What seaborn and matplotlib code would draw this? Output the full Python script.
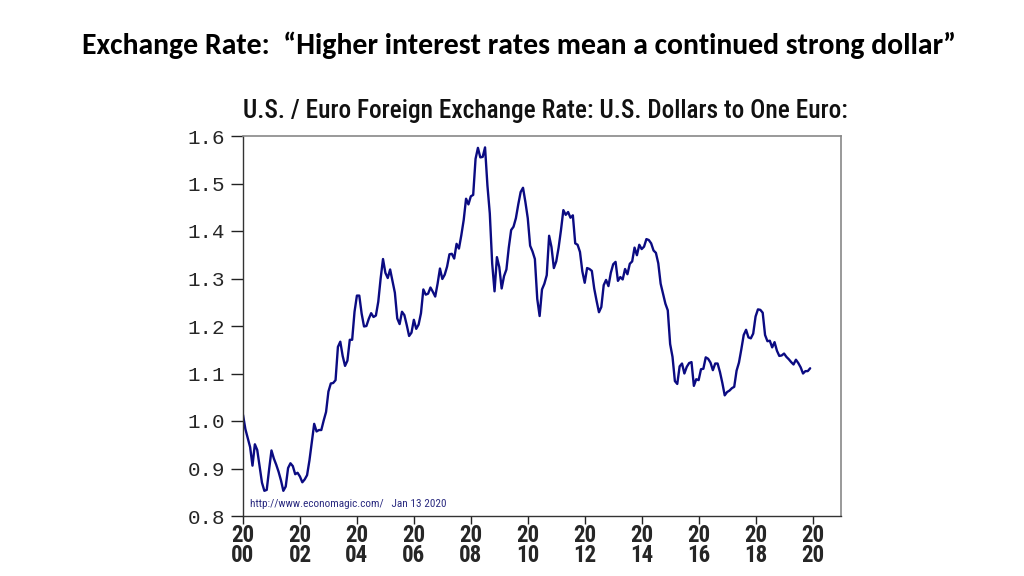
import numpy as np
import pandas as pd
import matplotlib
matplotlib.use("Agg")
import matplotlib.pyplot as plt
import seaborn as sns
from matplotlib import font_manager as fm
from matplotlib.transforms import Bbox

# ---------------- data ----------------
slide_title = "Exchange Rate:  \u201cHigher interest rates mean a continued strong dollar\u201d"
chart_title = "U.S. / Euro Foreign Exchange Rate: U.S. Dollars to One Euro:"
source_note = "http://www.economagic.com/   Jan 13 2020"
first_month = "2000-01"
usd_per_eur = [
    1.013, 0.983, 0.964, 0.945, 0.906, 0.951, 0.939, 0.905, 0.870, 0.853, 0.855, 0.898,  # 2000
    0.938, 0.921, 0.908, 0.893, 0.875, 0.853, 0.862, 0.901, 0.911, 0.905, 0.888, 0.891,  # 2001
    0.883, 0.871, 0.877, 0.886, 0.917, 0.956, 0.994, 0.978, 0.981, 0.981, 1.001, 1.019,  # 2002
    1.062, 1.079, 1.080, 1.086, 1.156, 1.167, 1.137, 1.116, 1.127, 1.171, 1.171, 1.230,  # 2003
    1.264, 1.264, 1.226, 1.199, 1.200, 1.215, 1.227, 1.219, 1.222, 1.251, 1.300, 1.341,  # 2004
    1.312, 1.301, 1.319, 1.294, 1.270, 1.216, 1.204, 1.230, 1.223, 1.202, 1.179, 1.186,  # 2005
    1.213, 1.194, 1.203, 1.227, 1.277, 1.266, 1.268, 1.281, 1.272, 1.262, 1.289, 1.321,  # 2006
    1.299, 1.308, 1.325, 1.351, 1.352, 1.342, 1.373, 1.363, 1.391, 1.423, 1.468, 1.456,  # 2007
    1.473, 1.476, 1.552, 1.575, 1.555, 1.556, 1.576, 1.496, 1.437, 1.332, 1.273, 1.345,  # 2008
    1.324, 1.279, 1.305, 1.319, 1.365, 1.402, 1.409, 1.427, 1.456, 1.482, 1.491, 1.461,  # 2009
    1.427, 1.369, 1.357, 1.341, 1.257, 1.221, 1.277, 1.289, 1.307, 1.390, 1.366, 1.322,  # 2010
    1.336, 1.365, 1.402, 1.444, 1.434, 1.440, 1.428, 1.433, 1.374, 1.371, 1.356, 1.315,  # 2011
    1.291, 1.322, 1.320, 1.316, 1.279, 1.253, 1.229, 1.240, 1.286, 1.297, 1.284, 1.312,  # 2012
    1.330, 1.335, 1.295, 1.303, 1.298, 1.320, 1.309, 1.331, 1.336, 1.365, 1.349, 1.371,  # 2013
    1.362, 1.367, 1.383, 1.381, 1.374, 1.359, 1.354, 1.332, 1.289, 1.268, 1.247, 1.233,  # 2014
    1.162, 1.135, 1.084, 1.078, 1.115, 1.121, 1.100, 1.114, 1.122, 1.124, 1.074, 1.088,  # 2015
    1.086, 1.109, 1.110, 1.134, 1.131, 1.123, 1.107, 1.121, 1.121, 1.103, 1.080, 1.054,  # 2016
    1.061, 1.064, 1.069, 1.072, 1.106, 1.123, 1.151, 1.181, 1.192, 1.176, 1.174, 1.184,  # 2017
    1.220, 1.235, 1.234, 1.228, 1.181, 1.168, 1.169, 1.155, 1.166, 1.148, 1.137, 1.138,  # 2018
    1.142, 1.135, 1.130, 1.124, 1.119, 1.129, 1.122, 1.113, 1.100, 1.105, 1.105, 1.111,  # 2019
]
y_ticks = [0.8, 0.9, 1.0, 1.1, 1.2, 1.3, 1.4, 1.5, 1.6]
y_tick_labels = ["0.8", "0.9", "1.0", "1.1", "1.2", "1.3", "1.4", "1.5", "1.6"]
x_ticks = [2000, 2002, 2004, 2006, 2008, 2010, 2012, 2014, 2016, 2018, 2020]
x_minor_ticks = [2001, 2003, 2005, 2007, 2009, 2011, 2013, 2015, 2017, 2019]
x_tick_labels = ["20\n00", "20\n02", "20\n04", "20\n06", "20\n08", "20\n10",
                 "20\n12", "20\n14", "20\n16", "20\n18", "20\n20"]

# ---------------- style ----------------
sns.set_theme(style="white")
available = {f.name for f in fm.fontManager.ttflist}


def pick(*names):
    for n in names:
        if n in available:
            return n
    return "DejaVu Sans"


narrow = pick("Roboto Condensed", "Liberation Sans Narrow", "Open Sans Condensed", "Roboto", "Liberation Sans")
slide_font = pick("Carlito", "Lato", "Open Sans")
mono = pick("Liberation Mono", "DejaVu Sans Mono")
plt.rcParams["font.family"] = [narrow, "DejaVu Sans"]

W, H = 1024, 576
fig = plt.figure(figsize=(W / 100, H / 100), dpi=100)
fig.patch.set_facecolor("white")

ax_l, ax_r, ax_t, ax_b = 243, 841, 136, 516
ax = fig.add_axes([ax_l / W, 1 - ax_b / H, (ax_r - ax_l) / W, (ax_b - ax_t) / H])

dates = pd.date_range(first_month, periods=len(usd_per_eur), freq="MS")
df = pd.DataFrame({"year": dates.year + (dates.month - 1) / 12.0, "rate": usd_per_eur})
sns.lineplot(data=df, x="year", y="rate", ax=ax, color="#0b0b82", linewidth=1.7)

ax.set_xlim(2000, 2021)
ax.set_ylim(0.8, 1.6)
ax.set_xlabel("")
ax.set_ylabel("")
ax.set_xticks(x_ticks)
ax.set_xticks(x_minor_ticks, minor=True)
ax.set_xticklabels(x_tick_labels, fontfamily=narrow, fontweight="bold", fontsize=16.5,
                   linespacing=0.8)
ax.set_yticks(y_ticks)
ax.set_yticklabels(y_tick_labels, fontfamily=mono, fontsize=15)
ax.tick_params(axis="x", which="major", direction="out", length=6, width=1, color="#222222", pad=0)
ax.tick_params(axis="x", which="minor", direction="out", length=6, width=1, color="#222222")
ax.tick_params(axis="y", which="major", direction="out", length=9, width=1, color="#222222", pad=4)
ax.tick_params(left=True, bottom=True)
for side in ["left", "bottom"]:
    ax.spines[side].set_color("#333333")
    ax.spines[side].set_linewidth(1.0)
for side in ["top", "right"]:
    ax.spines[side].set_color("#888888")
    ax.spines[side].set_linewidth(1.2)
ax.grid(False)

# source note inside the axes
ax.text(250 / W, 1 - 504 / H, source_note, transform=fig.transFigure, fontsize=8.1,
        fontfamily=narrow, color="#2b2b80", va="center", ha="left")

# chart title (clipped on the right like the original)
t = fig.text(ax_l / W, 1 - 111 / H, chart_title, fontsize=18.2, fontfamily=narrow,
             fontweight="medium", color="#111111", va="center", ha="left")
t.set_clip_box(Bbox.from_extents(0, 0, 849, H))
t.set_clip_on(True)

# slide title
fig.text(519 / W, 1 - 45 / H, slide_title, fontsize=21.4, fontfamily=slide_font,
         fontweight="bold", color="#000000", va="center", ha="center")

fig.savefig("out.png", dpi=100, facecolor="white")
